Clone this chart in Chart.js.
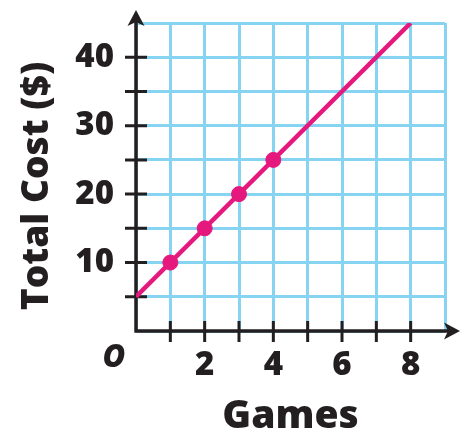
<!DOCTYPE html>
<html>
<head>
<meta charset="utf-8">
<script src="https://cdn.jsdelivr.net/npm/chart.js@4/dist/chart.umd.min.js"></script>
<style>
  html, body { margin: 0; padding: 0; background: #fff; }
  #wrap { width: 474px; height: 440px; }
</style>
</head>
<body>
<div id="wrap"><canvas id="myChart"></canvas></div>
<script>
// data
const gameCounts = [1, 2, 3, 4];
const totalCosts = [10, 15, 20, 25];
const lineGames = [0, 8];
const lineCosts = [5, 45];
const xLabels = ['2', '4', '6', '8'];
const yLabels = ['10', '20', '30', '40'];
const yTitle = 'Total Cost ($)';

const ink = '#231f20';
const gridBlue = '#86d4f2';
const pink = '#e5197d';

/* axes with arrows, tick marks and the O at the origin */
const axisArrows = {
    id: 'axisArrows',
    beforeDatasetsDraw(chart) {
        const ctx = chart.ctx;
        const xs = chart.scales.x;
        const ys = chart.scales.y;
        const x0 = xs.getPixelForValue(0);
        const y0 = ys.getPixelForValue(0);
        const yTop = ys.getPixelForValue(ys.max) - 13;
        const xEnd = xs.getPixelForValue(xs.max) + 15;
        ctx.save();
        ctx.strokeStyle = ink;
        ctx.fillStyle = ink;
        ctx.lineWidth = 3.5;
        ctx.beginPath();
        ctx.moveTo(x0, y0 + 1.5);
        ctx.lineTo(x0, yTop + 6);
        ctx.moveTo(x0 - 1.5, y0);
        ctx.lineTo(xEnd - 6, y0);
        ctx.stroke();
        // tick marks
        ctx.lineWidth = 3;
        ctx.beginPath();
        ys.ticks.forEach(t => {
            if (t.value > 0 && t.value < ys.max) {
                const p = ys.getPixelForValue(t.value);
                ctx.moveTo(x0 - 11, p);
                ctx.lineTo(x0 + 11, p);
            }
        });
        xs.ticks.forEach(t => {
            if (t.value > 0 && t.value < xs.max) {
                const p = xs.getPixelForValue(t.value);
                ctx.moveTo(p, y0 - 10);
                ctx.lineTo(p, y0 + 11);
            }
        });
        ctx.stroke();
        // arrow heads
        ctx.beginPath();
        ctx.moveTo(x0, yTop);
        ctx.lineTo(x0 + 8.5, yTop + 16);
        ctx.lineTo(x0, yTop + 12);
        ctx.lineTo(x0 - 8.5, yTop + 16);
        ctx.closePath();
        ctx.fill();
        ctx.beginPath();
        ctx.moveTo(xEnd, y0);
        ctx.lineTo(xEnd - 16, y0 - 8.5);
        ctx.lineTo(xEnd - 12, y0);
        ctx.lineTo(xEnd - 16, y0 + 8.5);
        ctx.closePath();
        ctx.fill();
        // origin label
        ctx.font = 'italic 800 31px "Open Sans"';
        ctx.textAlign = 'center';
        ctx.textBaseline = 'middle';
        ctx.fillText('O', x0 - 22, y0 + 27);
        // y axis title, centred a little below the plot middle like the original
        const area = chart.chartArea;
        ctx.translate(37, (area.top + area.bottom) / 2 + 9);
        ctx.rotate(-Math.PI / 2);
        ctx.font = '800 37px "Open Sans"';
        ctx.fillText(yTitle, 0, 0);
        ctx.restore();
    }
};

const config = document.getElementById('myChart').getContext('2d');
const myChart = new Chart(config, {
    type: 'scatter',
    data: {
        datasets: [
            {
                label: 'Cost line',
                data: lineGames.map((g, i) => ({x: g, y: lineCosts[i]})),
                showLine: true,
                borderColor: pink,
                borderWidth: 4.5,
                pointRadius: 0
            },
            {
                label: 'Games',
                data: gameCounts.map((g, i) => ({x: g, y: totalCosts[i]})),
                backgroundColor: pink,
                borderColor: pink,
                pointRadius: 7.5,
                pointHoverRadius: 7.5
            }
        ]
    },
    options: {
        responsive: true,
        maintainAspectRatio: false,
        animation: false,
        layout: {
            padding: {
                top: 23,
                right: 29,
                bottom: 0,
                left: 0
            }
        },
        plugins: {
            legend: { display: false },
            tooltip: { enabled: false }
        },
        scales: {
            x: {
                type: 'linear',
                min: 0,
                max: 9,
                afterFit(scale) {
                    scale.height = 109;
                    scale.paddingLeft = 0;
                    scale.paddingRight = 0;
                },
                border: { display: false },
                grid: {
                    color: gridBlue,
                    lineWidth: 3,
                    drawTicks: false
                },
                ticks: {
                    stepSize: 1,
                    autoSkip: false,
                    maxRotation: 0,
                    padding: 15,
                    color: ink,
                    font: { family: 'Open Sans', weight: 800, size: 33 },
                    callback: v => xLabels.includes(String(v)) ? String(v) : ''
                },
                title: {
                    display: true,
                    text: 'Games',
                    color: ink,
                    padding: { top: 0, bottom: 0 },
                    font: { family: 'Open Sans', weight: 800, size: 39 }
                }
            },
            y: {
                min: 0,
                max: 45,
                afterFit(scale) {
                    scale.width = 136;
                    scale.paddingTop = 0;
                    scale.paddingBottom = 0;
                },
                border: { display: false },
                grid: {
                    color: gridBlue,
                    lineWidth: 3,
                    drawTicks: false
                },
                ticks: {
                    stepSize: 5,
                    autoSkip: false,
                    padding: 22,
                    color: ink,
                    font: { family: 'Open Sans', weight: 800, size: 33 },
                    callback: v => yLabels.includes(String(v)) ? String(v) : ''
                },
                title: { display: false }
            }
        }
    },
    plugins: [axisArrows]
});
</script>
</body>
</html>
